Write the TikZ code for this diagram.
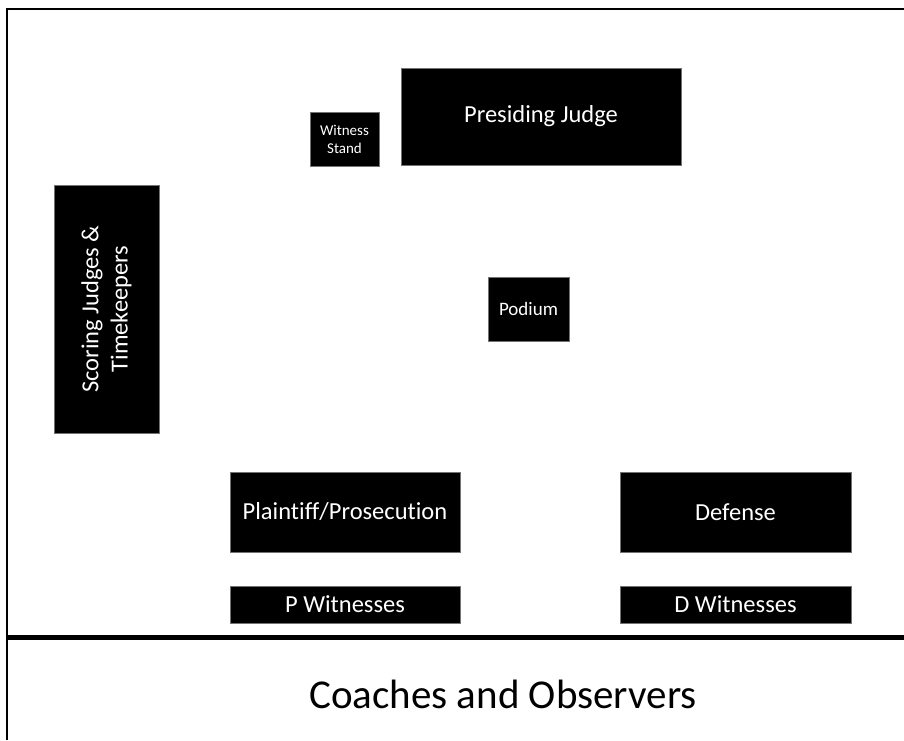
\documentclass[tikz,border=0pt]{standalone}
\usepackage{fontspec}
\setmainfont{Carlito}[Ligatures=NoCommon]
\usetikzlibrary{positioning}

\tikzset{
  table/.style={draw=black!55, line width=0.6pt, fill=black, text=white,
    inner sep=0pt, align=center, font=\fontsize{24.5}{29.4}\selectfont},
  small table/.style={table, font=\fontsize{15}{18}\selectfont},
  wall/.style={line width=2.2pt, black}
}

\begin{document}
\begin{tikzpicture}[x=1pt,y=-1pt]
\useasboundingbox (0,0) rectangle (904,740);

% room outline
\coordinate (corner) at (7,9);
\coordinate (topend) at (904,9);
\coordinate (leftend) at (7,740);
\coordinate (barL) at (7,637);
\coordinate (barR) at (904,637);
\draw[wall] (leftend) -- (corner) -- (topend);
\draw[line width=5pt] (barL) -- (barR);

% bench and witness stand
\node[table, minimum width=280pt, minimum height=97pt] (judge) at (541,116.5) {Presiding Judge};
\node[small table, minimum width=69pt, minimum height=54pt] (stand) at (344.5,139) {Witness\\Stand};

% podium
\node[table, font=\fontsize{19}{22.8}\selectfont, minimum width=81pt, minimum height=64pt] (podium) at (528.5,309) {Podium};

% scoring judges
\node[table, rotate=90, minimum width=248pt, minimum height=105pt] (scoring) at (106.5,309) {Scoring Judges \&\\Timekeepers};

% counsel tables
\node[table, minimum width=230pt, minimum height=80pt] (plaintiff) at (345,512) {Plaintiff/Prosecution};
\node[table, minimum width=231pt, minimum height=80pt] (defense) at (735.5,512) {Defense};

% witnesses
\node[table, minimum width=230pt, minimum height=37pt] (pwit) at (345,604.5) {P Witnesses};
\node[table, minimum width=231pt, minimum height=37pt] (dwit) at (735.5,604.5) {D Witnesses};

% gallery
\node[font=\fontsize{41}{49}\selectfont] (gallery) at (503,694) {Coaches and Observers};
\end{tikzpicture}
\end{document}
